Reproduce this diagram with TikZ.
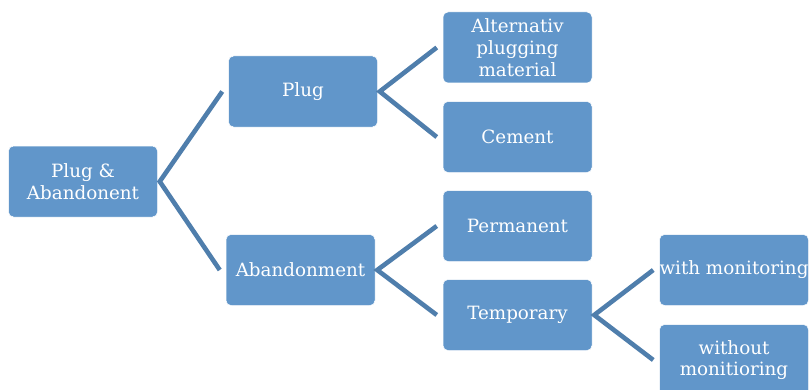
\documentclass[tikz,border=0pt]{standalone}
\usepackage{fontspec}
\setmainfont{DejaVu Serif}
\definecolor{boxfill}{RGB}{97,150,202}
\definecolor{linecol}{RGB}{79,126,172}
\tikzset{
  box/.style={draw=white, line width=0.5pt, fill=boxfill, rounded corners=5pt,
    minimum width=149pt, minimum height=71pt, inner sep=0pt, text=white,
    align=center, font=\fontsize{18.3}{21.8}\selectfont},
  conn/.style={draw=linecol, line width=4.6pt, line join=miter, line cap=butt}
}
\begin{document}
\begin{tikzpicture}[x=1pt,y=1pt]
\useasboundingbox (0,0) rectangle (810,389);
\node[box] (root) at (83,207.5) {Plug \&\\Abandonent};
\node[box] (plug) at (303,297.5) {Plug};
\node[box] (aband) at (300.5,119) {Abandonment};
\node[box] (alt) at (517.5,341.5) {Alternativ\\plugging\\material};
\node[box] (cement) at (517.5,252) {Cement};
\node[box] (perm) at (517.5,163) {Permanent};
\node[box] (temp) at (517.5,74) {Temporary};
\node[box] (with) at (734,119) {with monitoring};
\node[box] (without) at (734,29) {without\\monitioring};
\draw[conn] ([xshift=-6pt]plug.west) -- ([xshift=2pt]root.east) -- ([xshift=-6pt]aband.west);
\draw[conn] ([xshift=-6pt]alt.west) -- ([xshift=2pt]plug.east) -- ([xshift=-6pt]cement.west);
\draw[conn] ([xshift=-6pt]perm.west) -- ([xshift=2pt]aband.east) -- ([xshift=-6pt]temp.west);
\draw[conn] ([xshift=-6pt]with.west) -- ([xshift=2pt]temp.east) -- ([xshift=-6pt]without.west);
\end{tikzpicture}
\end{document}
